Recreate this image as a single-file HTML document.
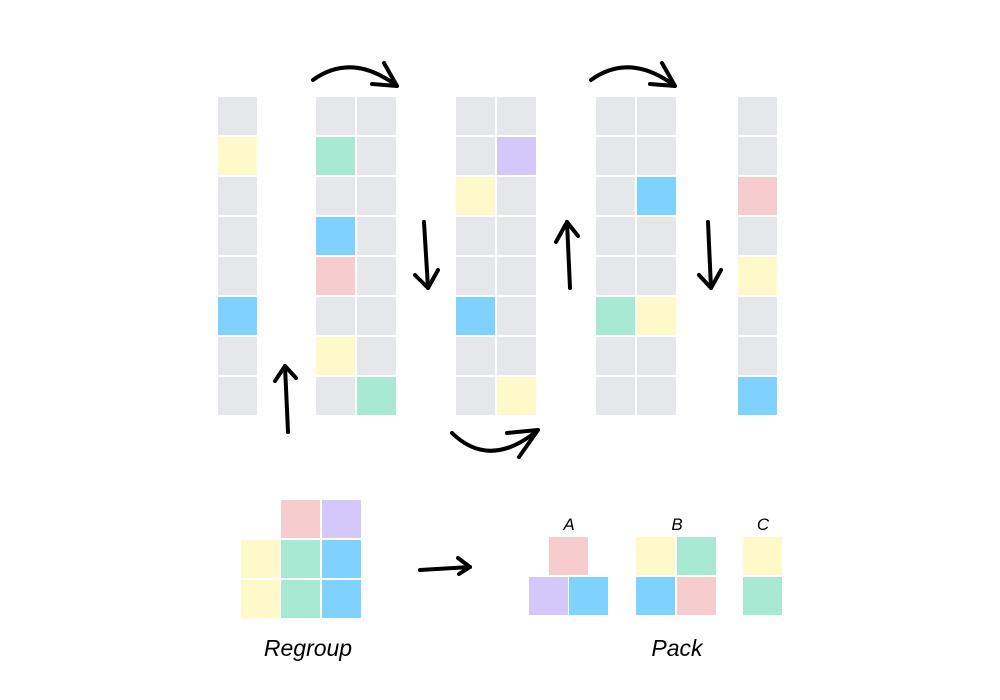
<!DOCTYPE html>
<html><head><style>
html,body{margin:0;padding:0;background:#fff;}
svg{display:block;}
text{font-family:"Liberation Sans",sans-serif;font-style:italic;fill:#000;}
</style></head><body>
<svg width="1000" height="700" xmlns="http://www.w3.org/2000/svg">
<defs>
<style>
.g{fill:#e6e7eb}.y{fill:#fff8c9}.gr{fill:#a8e9d4}.b{fill:#7fd1ff}.p{fill:#f6cccf}.pu{fill:#d4c8fb}
.a{fill:none;stroke:#000;stroke-width:4;stroke-linecap:round;stroke-linejoin:round}
</style>
</defs>
<g id="cells"></g>
<g class="a">
<path d="M313 80 Q352 52 397 86"/><path d="M384 63 L397 86 L372 84"/>
<path d="M591 80 Q630 52 675 86"/><path d="M662 63 L675 86 L650 84"/>
<path d="M288 432 L285 366"/><path d="M275 381 L285 366 L296 378"/>
<path d="M424 222 L428 288"/><path d="M415 275 L428 288 L438 270"/>
<path d="M570 288 L567 222"/><path d="M556 242 L567 222 L578 236"/>
<path d="M708 222 L711 288"/><path d="M699 275 L711 288 L721 270"/>
<path d="M452 433 Q490 470 538 430"/><path d="M507 433 L538 430 L519 457"/>
<path d="M420 570 L470 567"/><path d="M458 558 L470 567 L459 574"/>
</g>
<text x="308" y="656" font-size="23" text-anchor="middle">Regroup</text>
<text x="677" y="656" font-size="23" text-anchor="middle">Pack</text>
<text x="569" y="530" font-size="17" text-anchor="middle">A</text>
<text x="677" y="530" font-size="17" text-anchor="middle">B</text>
<text x="763" y="530" font-size="17" text-anchor="middle">C</text>
<script>
(function(){
var g=document.getElementById('cells');
function r(x,y,c,w,h){var e=document.createElementNS('http://www.w3.org/2000/svg','rect');e.setAttribute('x',x);e.setAttribute('y',y);e.setAttribute('width',w||39);e.setAttribute('height',h||38);e.setAttribute('class',c);g.appendChild(e);}
var cols=[
[218,['g','y','g','g','g','b','g','g']],
[316,['g','gr','g','b','p','g','y','g']],
[357,['g','g','g','g','g','g','g','gr']],
[456,['g','g','y','g','g','b','g','g']],
[497,['g','pu','g','g','g','g','g','y']],
[596,['g','g','g','g','g','gr','g','g']],
[637,['g','g','b','g','g','y','g','g']],
[738,['g','g','p','g','y','g','g','b']]
];
cols.forEach(function(c){c[1].forEach(function(k,i){r(c[0],97+i*40,k);});});
r(281,500,'p');r(322,500,'pu');
r(241,540,'y');r(281,540,'gr');r(322,540,'b');
r(241,580,'y');r(281,580,'gr');r(322,580,'b');
r(549,537,'p');r(529,577,'pu');r(569,577,'b');
r(636,537,'y');r(677,537,'gr');r(636,577,'b');r(677,577,'p');
r(743,537,'y');r(743,577,'gr');
})();
</script>
</svg>
</body></html>
